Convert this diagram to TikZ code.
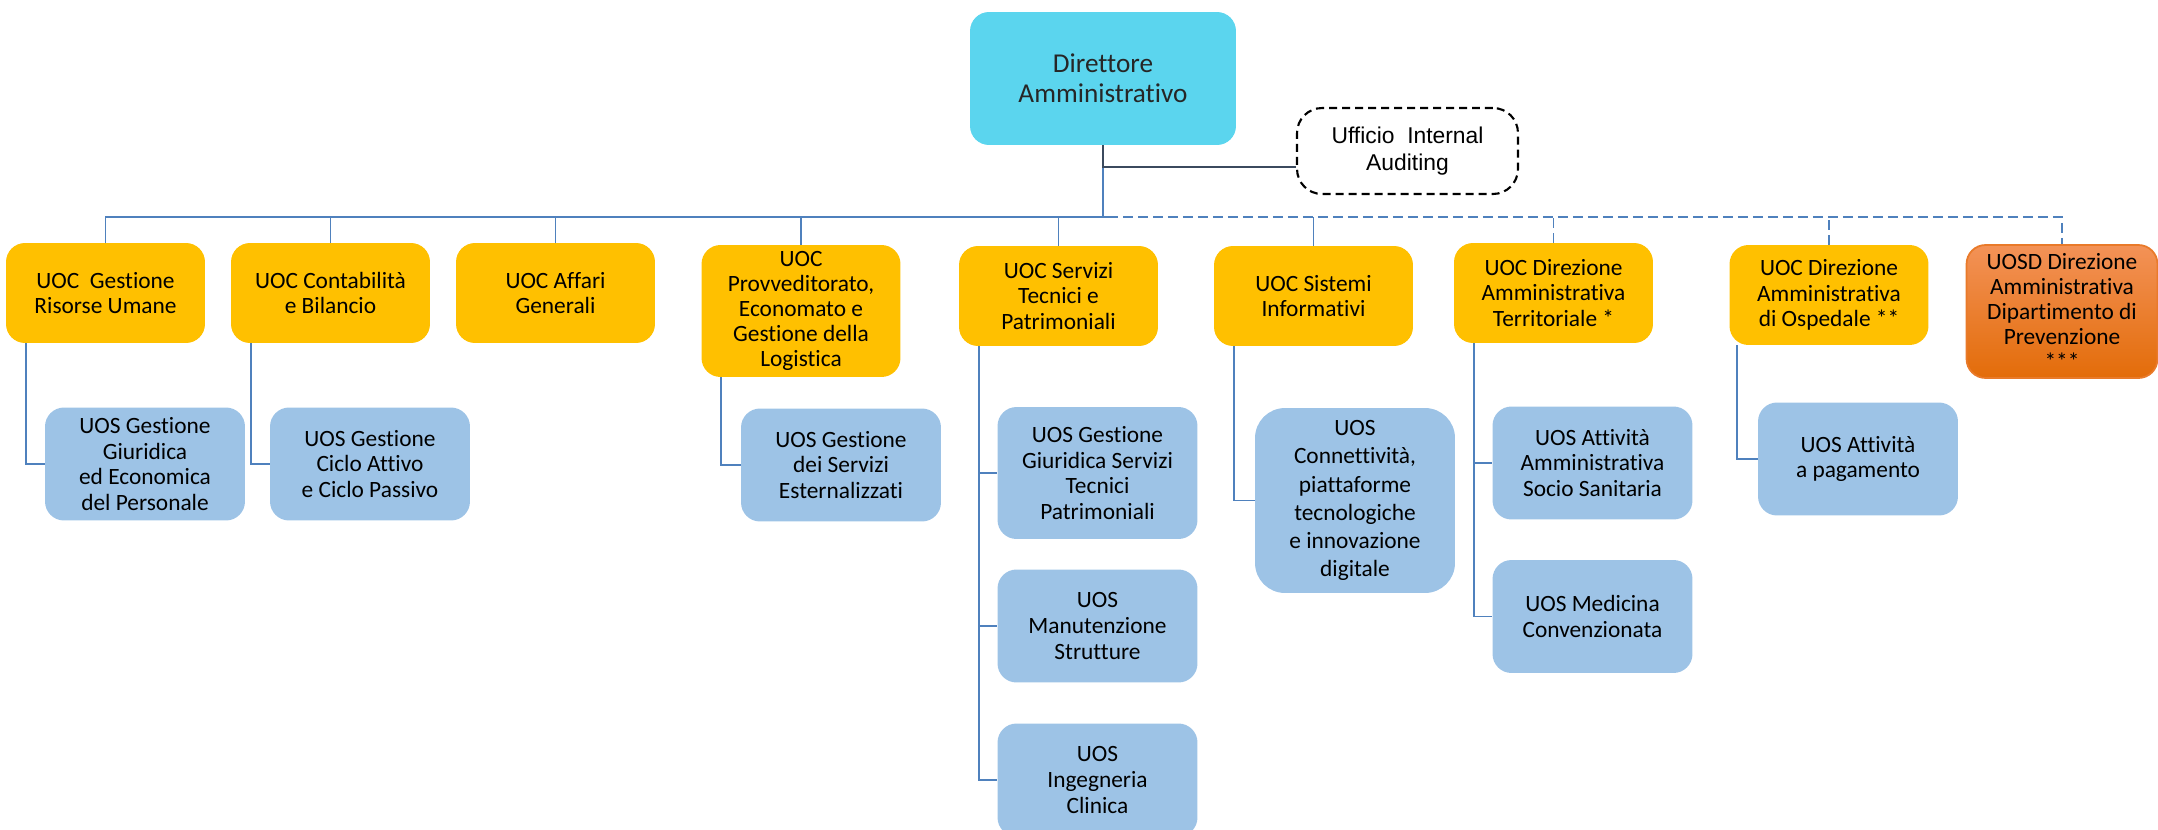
\documentclass[tikz,border=0pt]{standalone}
\usepackage{fontspec}
\setmainfont[Ligatures=NoCommon]{Carlito}
\newfontfamily\auditfont{Liberation Sans}
\definecolor{dircyan}{HTML}{5BD5EE}
\definecolor{uocgold}{HTML}{FFC000}
\definecolor{uosblue}{HTML}{9DC3E6}
\definecolor{linkblue}{HTML}{4F81BD}
\definecolor{auditline}{HTML}{3B4A5E}
\definecolor{uosdtop}{HTML}{F39257}
\definecolor{uosdbot}{HTML}{E36C09}
\definecolor{uosdedge}{HTML}{E97A2A}

\begin{document}
\begin{tikzpicture}[x=0.02cm, y=-0.02cm, font=\fontsize{13.3}{14.6}\selectfont]
\tikzstyle{boxStyle}=[shape=rectangle, rounded corners=0.38cm, align=center, inner sep=2pt]
\tikzstyle{dirStyle}=[boxStyle, fill=dircyan, minimum width=5.32cm, minimum height=2.66cm, font=\fontsize{15.5}{17}\selectfont, text=black!85]
\tikzstyle{auditStyle}=[boxStyle, rounded corners=0.5cm, draw=black, line width=1.2pt, dash pattern=on 0.16cm off 0.1cm, fill=white, minimum width=4.42cm, minimum height=1.72cm, font=\auditfont\fontsize{13}{15.3}\selectfont]
\tikzstyle{uocStyle}=[boxStyle, fill=uocgold, minimum width=3.98cm, minimum height=2cm]
\tikzstyle{uosStyle}=[boxStyle, fill=uosblue, minimum width=4cm, minimum height=2.26cm]
\tikzstyle{uosdStyle}=[boxStyle, top color=uosdtop, bottom color=uosdbot, draw=uosdedge, line width=1pt, minimum width=3.82cm, minimum height=2.66cm, font=\fontsize{13.3}{14.2}\selectfont]
\tikzstyle{linkStyle}=[draw=linkblue, line width=1.1pt]
\tikzstyle{dashLinkStyle}=[linkStyle, dash pattern=on 0.2cm off 0.1cm]
\tikzstyle{auditLinkStyle}=[draw=auditline, line width=1.4pt]
\useasboundingbox (0,0) rectangle (2158,829);
\node[dirStyle] (d0) at (1103,78.5) {Direttore\\Amministrativo};
\node[auditStyle] (a0) at (1407.5,151) {Ufficio\ \ Internal\\Auditing};
\node[uocStyle] (c0) at (105.5,293) {UOC\ \ Gestione\\Risorse Umane};
\node[uocStyle] (c1) at (330.5,293) {UOC Contabilità\\e Bilancio};
\node[uocStyle] (c2) at (555.5,293) {UOC Affari\\Generali};
\node[uocStyle, minimum height=2.64cm, font=\fontsize{13.3}{14.2}\selectfont] (c3) at (801,311) {UOC\\Provveditorato,\\Economato e\\Gestione della\\Logistica};
\node[uocStyle] (c4) at (1058.5,296) {UOC Servizi\\Tecnici e\\Patrimoniali};
\node[uocStyle] (c5) at (1313.5,296) {UOC Sistemi\\Informativi};
\node[uocStyle] (c6) at (1553.5,293) {UOC Direzione\\Amministrativa\\Territoriale *};
\node[uocStyle] (c7) at (1829,295) {UOC Direzione\\Amministrativa\\di Ospedale **};
\node[uosdStyle] (c8) at (2062,311.5) {UOSD Direzione\\Amministrativa\\Dipartimento di\\Prevenzione\\***};
\node[uosStyle] (s0) at (145,464) {UOS Gestione\\Giuridica\\ed Economica\\del Personale};
\node[uosStyle] (s1) at (370,464) {UOS Gestione\\Ciclo Attivo\\e Ciclo Passivo};
\node[uosStyle] (s2) at (841,465) {UOS Gestione\\dei Servizi\\Esternalizzati};
\node[uosStyle, minimum height=2.64cm] (s3) at (1097.5,473) {UOS Gestione\\Giuridica Servizi\\Tecnici\\Patrimoniali};
\node[uosStyle] (s4) at (1097.5,626) {UOS\\Manutenzione\\Strutture};
\node[uosStyle] (s5) at (1097.5,780) {UOS\\Ingegneria\\Clinica};
\node[uosStyle, minimum height=3.7cm, rounded corners=0.6cm, font=\fontsize{13.3}{16}\selectfont] (s6) at (1355,500.5) {UOS\\Connettività,\\piattaforme\\tecnologiche\\e innovazione\\digitale};
\node[uosStyle] (s7) at (1592.5,463) {UOS Attività\\Amministrativa\\Socio Sanitaria};
\node[uosStyle] (s8) at (1592.5,616.5) {UOS Medicina\\Convenzionata};
\node[uosStyle] (s9) at (1858,459) {UOS Attività\\a pagamento};
\coordinate (b0) at (1108,217);
\draw[linkStyle] (d0.south) -- (d0.south |- b0);
\draw[auditLinkStyle] (d0.south) |- ([yshift=-0.32cm]a0.west);
\draw[linkStyle] (c0.north) |- (b0);
\draw[dashLinkStyle] (b0) -| (c8.north);
\foreach \n in {c1,c2,c3,c4,c5}
  \draw[linkStyle] (\n.north) -- (\n.north |- b0);
\foreach \n in {c6,c7}
  \draw[dashLinkStyle] (\n.north) -- (\n.north |- b0);
\draw[linkStyle] ([xshift=0.4cm]c0.south west) |- (s0.west);
\draw[linkStyle] ([xshift=0.4cm]c1.south west) |- (s1.west);
\draw[linkStyle] ([xshift=0.4cm]c3.south west) |- (s2.west);
\foreach \n in {s3,s4,s5}
  \draw[linkStyle] ([xshift=0.4cm]c4.south west) |- (\n.west);
\draw[linkStyle] ([xshift=0.4cm]c5.south west) |- (s6.west);
\foreach \n in {s7,s8}
  \draw[linkStyle] ([xshift=0.4cm]c6.south west) |- (\n.west);
\draw[linkStyle] ([xshift=0.16cm]c7.south west) |- (s9.west);
\end{tikzpicture}
\end{document}
